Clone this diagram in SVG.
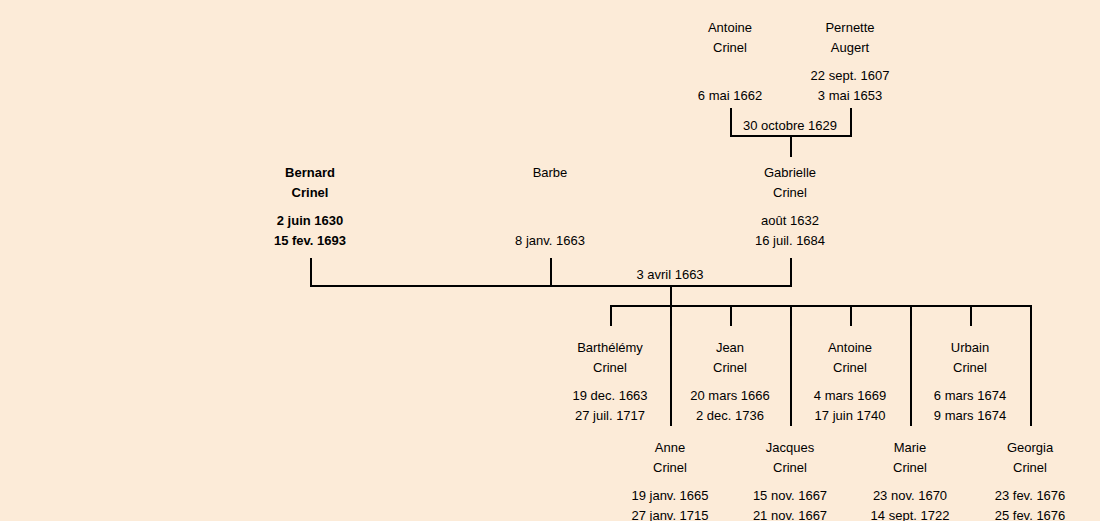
<svg xmlns="http://www.w3.org/2000/svg" width="1100" height="521" viewBox="0 0 1100 521">
<style>
text{font-family:"Comic Sans MS","Liberation Sans",sans-serif;font-size:13px;fill:#000;text-anchor:middle;dominant-baseline:central}
.b{font-weight:bold}
.c{fill:none;stroke:#000;stroke-width:2}
</style>
<rect width="1100" height="521" fill="#fcebd8"/>
<g id="connectors">
<path class="c" d="M731 108V136H851V108M791 136V157"/>
<path class="c" d="M311 258V286H791V258M551 258V286M671 286V426M611 326V306H1031V426M731 306V326M791 306V426M851 306V326M911 306V426M971 306V326"/>
<text x="790" y="125">30 octobre 1629</text>
<text x="670" y="274">3 avril 1663</text>
</g>
<g id="antoine-sr"><text x="730" y="27">Antoine</text><text x="730" y="47">Crinel</text><text x="730" y="95">6 mai 1662</text></g>
<g id="pernette"><text x="850" y="27">Pernette</text><text x="850" y="47">Augert</text><text x="850" y="75">22 sept. 1607</text><text x="850" y="95">3 mai 1653</text></g>
<g id="bernard" class="b"><text class="b" x="310" y="172">Bernard</text><text class="b" x="310" y="192">Crinel</text><text class="b" x="310" y="220">2 juin 1630</text><text class="b" x="310" y="240">15 fev. 1693</text></g>
<g id="barbe"><text x="550" y="172">Barbe</text><text x="550" y="240">8 janv. 1663</text></g>
<g id="gabrielle"><text x="790" y="172">Gabrielle</text><text x="790" y="192">Crinel</text><text x="790" y="220">août 1632</text><text x="790" y="240">16 juil. 1684</text></g>
<g id="barthelemy"><text x="610" y="347">Barthélémy</text><text x="610" y="367">Crinel</text><text x="610" y="395">19 dec. 1663</text><text x="610" y="415">27 juil. 1717</text></g>
<g id="jean"><text x="730" y="347">Jean</text><text x="730" y="367">Crinel</text><text x="730" y="395">20 mars 1666</text><text x="730" y="415">2 dec. 1736</text></g>
<g id="antoine"><text x="850" y="347">Antoine</text><text x="850" y="367">Crinel</text><text x="850" y="395">4 mars 1669</text><text x="850" y="415">17 juin 1740</text></g>
<g id="urbain"><text x="970" y="347">Urbain</text><text x="970" y="367">Crinel</text><text x="970" y="395">6 mars 1674</text><text x="970" y="415">9 mars 1674</text></g>
<g id="anne"><text x="670" y="447">Anne</text><text x="670" y="467">Crinel</text><text x="670" y="495">19 janv. 1665</text><text x="670" y="515">27 janv. 1715</text></g>
<g id="jacques"><text x="790" y="447">Jacques</text><text x="790" y="467">Crinel</text><text x="790" y="495">15 nov. 1667</text><text x="790" y="515">21 nov. 1667</text></g>
<g id="marie"><text x="910" y="447">Marie</text><text x="910" y="467">Crinel</text><text x="910" y="495">23 nov. 1670</text><text x="910" y="515">14 sept. 1722</text></g>
<g id="georgia"><text x="1030" y="447">Georgia</text><text x="1030" y="467">Crinel</text><text x="1030" y="495">23 fev. 1676</text><text x="1030" y="515">25 fev. 1676</text></g>
</svg>
